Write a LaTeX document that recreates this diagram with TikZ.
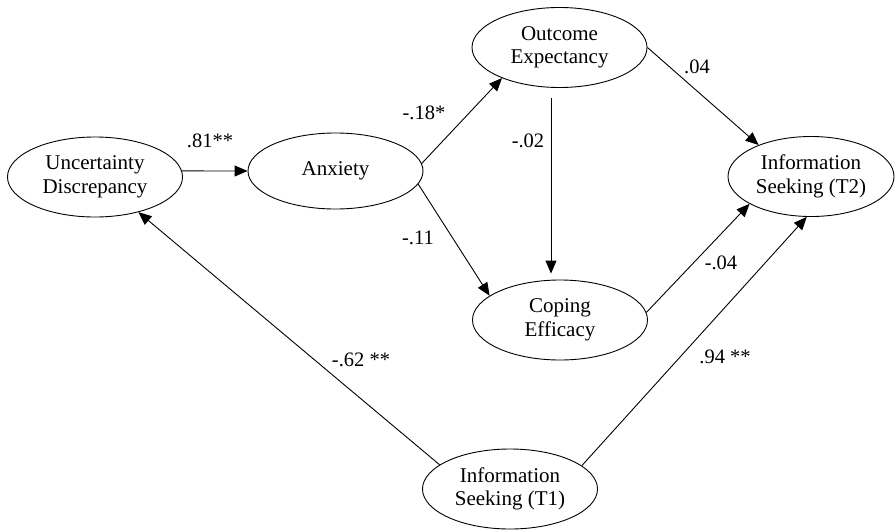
\documentclass[tikz,border=0pt]{standalone}
\usepackage{fontspec}
\setmainfont{Liberation Serif}
\usetikzlibrary{arrows.meta,shapes.geometric}
\begin{document}
\begin{tikzpicture}[x=1pt,y=-1pt,
  latent/.style={draw,ellipse,line width=0.9pt,minimum width=175pt,minimum height=80pt,inner sep=0pt,align=center,font=\fontsize{21}{23.5}\selectfont},
  arr/.style={draw,line width=0.9pt,-{Triangle[length=13pt,width=11pt]}},
  coef/.style={font=\fontsize{20.5}{23}\selectfont,inner sep=0pt}]
\useasboundingbox (0,0) rectangle (896,530);
\node[latent] (ud) at (95,177) {Uncertainty\\Discrepancy};
\node[latent,minimum height=76pt] (anx) at (335.5,171) {Anxiety};
\node[latent] (oe) at (559.5,47.5) {Outcome\\Expectancy};
\node[latent] (ce) at (560,320) {Coping\\Efficacy};
\node[latent,minimum width=166pt] (t2) at (811,176.5) {Information\\Seeking (T2)};
\node[latent] (t1) at (510,489) {Information\\Seeking (T1)};
\draw[arr] (ud.4) -- (anx.west);
\draw[arr] (anx.5) -- (oe.208);
\draw[arr] (anx.-9) -- (ce.161);
\draw[arr,shorten <=10pt,shorten >=6pt] ([xshift=-8.5pt]oe.south) -- ([xshift=-9pt]ce.north);
\draw[arr] (oe.east) -- (t2.149);
\draw[arr] (ce.5) -- (t2.204);
\draw[arr] (t1.161) -- (ud.321);
\draw[arr] (t1.18) -- (t2.264);
\node[coef] (l1) at (210,141) {.81**};
\node[coef] (l2) at (424,113) {-.18*};
\node[coef] (l3) at (418,238) {-.11};
\node[coef] (l4) at (528,141) {-.02};
\node[coef] (l5) at (697,67) {.04};
\node[coef] (l6) at (721,263) {-.04};
\node[coef] (l7) at (361,360) {-.62 **};
\node[coef] (l8) at (725,357) {.94 **};
\end{tikzpicture}
\end{document}
